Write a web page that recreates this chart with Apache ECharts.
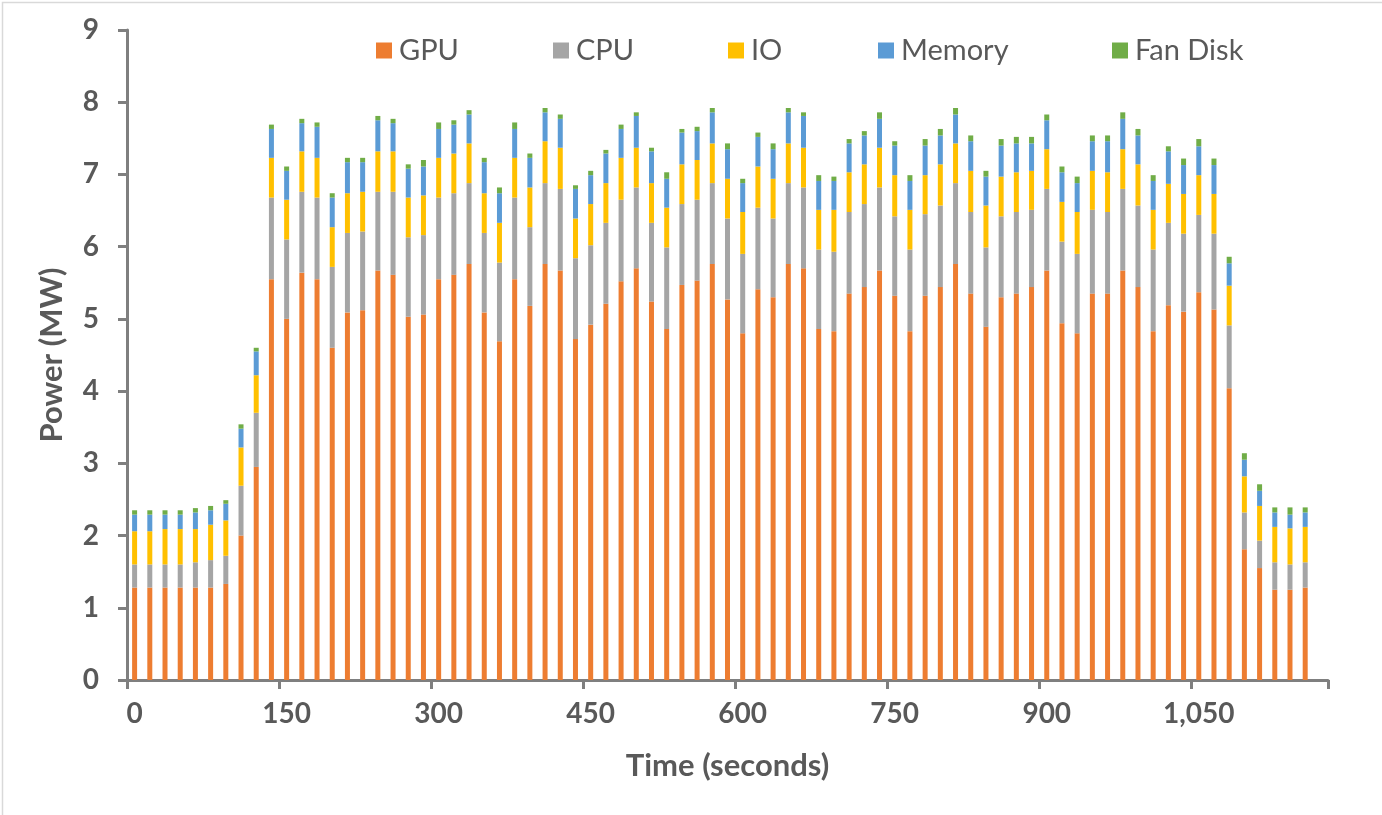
<!DOCTYPE html>
<html>
<head>
<meta charset="utf-8">
<script src="https://cdn.jsdelivr.net/npm/echarts@6/dist/echarts.min.js"></script>
<style>
  html, body { margin: 0; padding: 0; background: #fff; }
  #chart { width: 1382px; height: 815px; }
</style>
</head>
<body>
<div id="chart"></div>
<script>
// Time categories (seconds); labels shown every 150 s
const times = [0,15,30,45,60,75,90,105,120,135,150,165,180,195,210,225,240,255,270,285,
  300,315,330,345,360,375,390,405,420,435,450,465,480,495,510,525,540,555,570,585,
  600,615,630,645,660,675,690,705,720,735,750,765,780,795,810,825,840,855,870,885,
  900,915,930,945,960,975,990,1005,1020,1035,1050,1065,1080,1095,1110,1125,1140,1155,1170];

const gpu = [1.28,1.28,1.28,1.28,1.28,1.28,1.33,2.00,2.95,5.55,
  5.00,5.64,5.55,4.60,5.09,5.12,5.67,5.61,5.03,5.06,
  5.55,5.61,5.76,5.09,4.69,5.55,5.18,5.76,5.67,4.72,
  4.92,5.21,5.52,5.70,5.24,4.86,5.47,5.53,5.76,5.27,
  4.80,5.41,5.30,5.76,5.70,4.86,4.83,5.35,5.44,5.67,
  5.32,4.83,5.32,5.44,5.76,5.35,4.89,5.30,5.35,5.44,
  5.67,4.94,4.80,5.35,5.35,5.67,5.44,4.83,5.19,5.10,
  5.37,5.13,4.04,1.81,1.55,1.25,1.25,1.28];
const cpu = [0.32,0.32,0.32,0.32,0.35,0.38,0.39,0.69,0.75,1.13,
  1.10,1.12,1.13,1.12,1.10,1.09,1.09,1.15,1.10,1.10,
  1.13,1.13,1.12,1.10,1.09,1.13,1.09,1.12,1.13,1.12,
  1.10,1.12,1.13,1.12,1.09,1.13,1.12,1.12,1.12,1.12,
  1.10,1.13,1.09,1.12,1.12,1.10,1.10,1.13,1.15,1.15,
  1.10,1.13,1.13,1.13,1.12,1.13,1.10,1.12,1.13,1.07,
  1.13,1.13,1.10,1.16,1.13,1.13,1.13,1.13,1.14,1.08,
  1.07,1.05,0.87,0.51,0.38,0.38,0.35,0.35];
const io = [0.46,0.46,0.49,0.49,0.46,0.49,0.49,0.53,0.52,0.55,
  0.55,0.56,0.55,0.55,0.55,0.55,0.56,0.56,0.55,0.55,
  0.55,0.55,0.55,0.55,0.55,0.55,0.55,0.58,0.57,0.55,
  0.57,0.55,0.58,0.55,0.55,0.55,0.55,0.55,0.55,0.55,
  0.58,0.57,0.55,0.55,0.55,0.55,0.58,0.55,0.55,0.55,
  0.57,0.55,0.54,0.57,0.55,0.57,0.58,0.55,0.55,0.54,
  0.55,0.55,0.58,0.54,0.55,0.55,0.57,0.55,0.54,0.55,
  0.55,0.55,0.55,0.50,0.48,0.49,0.50,0.49];
const memory = [0.23,0.23,0.20,0.20,0.23,0.20,0.23,0.26,0.33,0.40,
  0.40,0.39,0.43,0.41,0.43,0.41,0.43,0.39,0.40,0.40,
  0.40,0.40,0.40,0.43,0.41,0.40,0.41,0.40,0.40,0.41,
  0.40,0.41,0.40,0.44,0.44,0.40,0.44,0.40,0.43,0.41,
  0.40,0.41,0.41,0.43,0.44,0.40,0.40,0.40,0.40,0.40,
  0.41,0.40,0.41,0.40,0.40,0.41,0.40,0.43,0.40,0.38,
  0.40,0.41,0.40,0.41,0.43,0.42,0.40,0.40,0.45,0.40,
  0.40,0.40,0.31,0.23,0.21,0.20,0.19,0.20];
const fanDisk = [0.06,0.06,0.06,0.06,0.06,0.06,0.05,0.06,0.05,0.06,
  0.06,0.06,0.06,0.06,0.06,0.06,0.06,0.06,0.06,0.09,
  0.09,0.06,0.06,0.06,0.08,0.09,0.06,0.06,0.06,0.05,
  0.06,0.05,0.06,0.05,0.05,0.09,0.05,0.06,0.06,0.08,
  0.06,0.06,0.08,0.06,0.05,0.08,0.06,0.06,0.06,0.09,
  0.06,0.08,0.09,0.09,0.09,0.08,0.08,0.09,0.09,0.09,
  0.08,0.08,0.09,0.08,0.08,0.09,0.09,0.08,0.07,0.09,
  0.10,0.09,0.09,0.09,0.09,0.07,0.10,0.07];

const seriesNames = ['GPU', 'CPU', 'IO', 'Memory', 'Fan Disk'];
const seriesData = [gpu, cpu, io, memory, fanDisk];
const colors = ['#ED7D31', '#A5A5A5', '#FFC000', '#5B9BD5', '#70AD47'];
const legendLeft = [371, 548, 723, 873, 1107];

const textColor = '#595959';
const axisColor = '#7F7F7F';
const FONT = 'Lato';

const chart = echarts.init(document.getElementById('chart'), null, { renderer: 'canvas' });

const option = {
  animation: false,
  color: colors,
  graphic: [{
    type: 'rect', left: 0, top: 0, silent: true,
    shape: { x: 0.5, y: 0.5, width: 1381, height: 814 },
    style: { fill: 'none', stroke: '#D9D9D9', lineWidth: 1.5 }
  }],
  legend: seriesNames.map((n, i) => ({
    data: [n],
    left: legendLeft[i],
    top: 31,
    itemWidth: 16,
    itemHeight: 16,
    itemGap: 10,
    icon: 'rect',
    textStyle: { fontFamily: FONT, fontSize: 29, color: textColor, padding: [0, 0, 0, 2] },
    selectedMode: false
  })),
  grid: { left: 127, right: 54, top: 30, bottom: 135, containLabel: false },
  xAxis: {
    type: 'category',
    data: times,
    boundaryGap: true,
    name: 'Time (seconds)',
    nameLocation: 'middle',
    nameGap: 70,
    nameTextStyle: { fontFamily: FONT, fontSize: 31, fontWeight: 'bold', color: textColor },
    axisLine: { show: true, lineStyle: { color: axisColor, width: 3 } },
    axisTick: {
      show: true,
      interval: (idx) => idx % 10 === 0,
      alignWithLabel: false, length: 9,
      lineStyle: { color: axisColor, width: 3 }
    },
    axisLabel: {
      interval: 9,
      margin: 20,
      fontFamily: FONT, fontSize: 28, fontWeight: 'bold', color: textColor,
      formatter: v => Number(v).toLocaleString('en-US')
    },
    splitLine: { show: false }
  },
  yAxis: {
    type: 'value',
    min: 0, max: 9, interval: 1,
    name: 'Power (MW)',
    nameLocation: 'middle',
    nameGap: 60,
    nameRotate: 90,
    nameTextStyle: { fontFamily: FONT, fontSize: 31, fontWeight: 'bold', color: textColor },
    axisLine: { show: true, lineStyle: { color: axisColor, width: 3 } },
    axisTick: { show: true, length: 9, lineStyle: { color: axisColor, width: 3 } },
    axisLabel: { margin: 28, fontFamily: FONT, fontSize: 28, fontWeight: 'bold', color: textColor },
    splitLine: { show: false }
  },
  series: seriesNames.map((n, i) => ({
    name: n,
    type: 'bar',
    stack: 'power',
    barWidth: 5,
    data: seriesData[i],
    itemStyle: { color: colors[i] }
  }))
};

chart.setOption(option);
</script>
</body>
</html>
